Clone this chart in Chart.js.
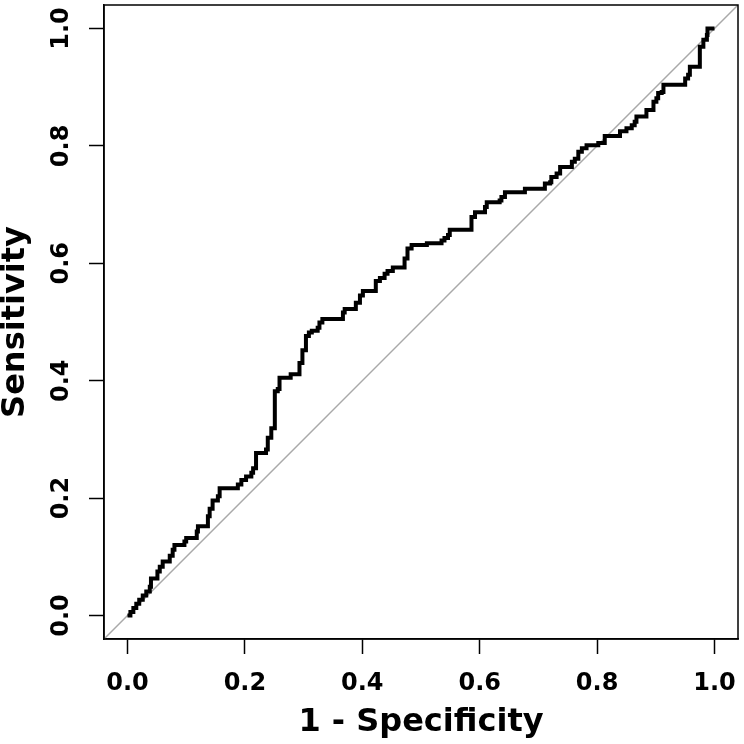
<!DOCTYPE html>
<html>
<head>
<meta charset="utf-8">
<script src="https://cdn.jsdelivr.net/npm/chart.js@4.4.1/dist/chart.umd.min.js"></script>
<style>
  html, body { margin: 0; padding: 0; background: #fff; }
  #wrap { width: 744px; height: 744px; }
</style>
</head>
<body>
<div id="wrap"><canvas id="c" width="744" height="744"></canvas></div>
<script>
// ROC curve: 1 - specificity (x) and sensitivity (y) at each riser
const fpr = [0.000,0.005,0.010,0.015,0.020,0.026,0.032,0.038,0.040,0.051,0.055,0.060,0.072,0.077,0.080,0.097,0.100,0.118,0.120,0.137,
  0.140,0.145,0.154,0.157,0.188,0.194,0.202,0.211,0.214,0.219,0.236,0.239,0.245,0.251,0.256,0.259,0.278,0.293,0.298,0.304,
  0.309,0.314,0.324,0.327,0.332,0.367,0.370,0.389,0.396,0.401,0.423,0.430,0.438,0.443,0.452,0.472,0.477,0.484,0.510,0.535,
  0.540,0.546,0.549,0.586,0.592,0.609,0.612,0.634,0.637,0.643,0.677,0.711,0.720,0.722,0.731,0.737,0.757,0.762,0.768,0.774,
  0.782,0.802,0.813,0.839,0.850,0.859,0.864,0.867,0.884,0.896,0.901,0.904,0.910,0.913,0.950,0.955,0.958,0.975,0.981,0.987,
  0.988,1.000];
const tpr = [0.000,0.006,0.013,0.020,0.027,0.034,0.041,0.049,0.063,0.075,0.083,0.092,0.102,0.112,0.120,0.126,0.132,0.143,0.152,0.169,
  0.182,0.196,0.203,0.217,0.223,0.231,0.237,0.243,0.251,0.277,0.283,0.303,0.319,0.382,0.386,0.405,0.411,0.430,0.452,0.476,
  0.482,0.485,0.490,0.499,0.505,0.516,0.522,0.533,0.545,0.553,0.570,0.575,0.582,0.587,0.593,0.608,0.625,0.631,0.634,0.639,
  0.643,0.648,0.657,0.679,0.687,0.696,0.704,0.707,0.713,0.721,0.727,0.736,0.738,0.747,0.753,0.764,0.773,0.778,0.790,0.796,
  0.801,0.805,0.817,0.825,0.830,0.835,0.841,0.850,0.861,0.875,0.881,0.890,0.892,0.904,0.915,0.921,0.935,0.969,0.981,0.989,
  1.000,1.000];
// reference (chance) line
const chanceLine = [-0.04, 1.04];
// axes
const tickValues = [0, 0.2, 0.4, 0.6, 0.8, 1.0];
const axisMin = -0.04;
const axisMax = 1.04;
const xTitle = '1 - Specificity';
const yTitle = 'Sensitivity';

const FONT = 'DejaVu Sans';

const boxPlugin = {
  id: 'box',
  afterDraw(chart) {
    const a = chart.chartArea, ctx = chart.ctx;
    ctx.save();
    ctx.strokeStyle = '#000';
    ctx.lineWidth = 1.5;
    ctx.strokeRect(a.left, a.top, a.right - a.left, a.bottom - a.top);
    ctx.restore();
  }
};

const rocPoints = fpr.map((x, i) => ({ x: x, y: tpr[i] }));
const diagPoints = chanceLine.map(v => ({ x: v, y: v }));

new Chart(document.getElementById('c'), {
  type: 'line',
  data: {
    datasets: [
      {
        data: rocPoints,
        borderColor: '#000',
        borderWidth: 4,
        pointRadius: 0,
        fill: false,
        stepped: 'before',
        borderJoinStyle: 'miter',
        borderCapStyle: 'butt'
      },
      {
        data: diagPoints,
        borderColor: '#a9a9a9',
        borderWidth: 1.5,
        pointRadius: 0,
        fill: false,
        tension: 0
      }
    ]
  },
  options: {
    responsive: false,
    animation: false,
    devicePixelRatio: 1,
    layout: { padding: { top: 5, right: 6, left: 0, bottom: 0 } },
    plugins: { legend: { display: false }, tooltip: { enabled: false } },
    scales: {
      x: {
        type: 'linear',
        min: axisMin,
        max: axisMax,
        afterBuildTicks: s => { s.ticks = tickValues.map(v => ({ value: v })); },
        afterFit: s => { s.height = 105; s.paddingLeft = 0; s.paddingRight = 0; },
        ticks: {
          callback: v => Number(v).toFixed(1),
          font: { family: FONT, size: 24, weight: 'bold' },
          color: '#000',
          padding: 15,
          maxRotation: 0,
          minRotation: 0,
          autoSkip: false
        },
        grid: { display: true, drawOnChartArea: false, drawTicks: true, tickLength: 15, tickWidth: 1.5, tickColor: '#000' },
        border: { display: true, color: '#000', width: 1.5 },
        title: {
          display: true,
          text: xTitle,
          color: '#000',
          font: { family: FONT, size: 32, weight: 'bold', lineHeight: 1.0 },
          padding: { top: 0, bottom: 5 }
        }
      },
      y: {
        type: 'linear',
        min: axisMin,
        max: axisMax,
        afterBuildTicks: s => { s.ticks = tickValues.map(v => ({ value: v })); },
        afterFit: s => { s.width = 104; s.paddingTop = 0; s.paddingBottom = 0; },
        ticks: {
          callback: v => Number(v).toFixed(1),
          font: { family: FONT, size: 24, weight: 'bold' },
          color: '#000',
          padding: 6,
          minRotation: 90,
          maxRotation: 90,
          crossAlign: 'center',
          autoSkip: false
        },
        grid: { display: true, drawOnChartArea: false, drawTicks: true, tickLength: 15, tickWidth: 1.5, tickColor: '#000' },
        border: { display: true, color: '#000', width: 1.5 },
        title: {
          display: true,
          text: yTitle,
          color: '#000',
          font: { family: FONT, size: 32, weight: 'bold', lineHeight: 1.0 },
          padding: { top: 0, bottom: 0 }
        }
      }
    }
  },
  plugins: [boxPlugin]
});
</script>
</body>
</html>
